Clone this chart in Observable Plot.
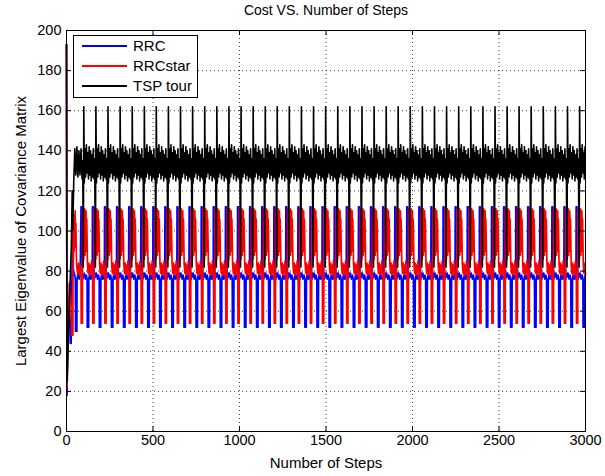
<!DOCTYPE html>
<html><head><meta charset="utf-8">
<script src="https://cdn.jsdelivr.net/npm/d3@7"></script>
<script src="https://cdn.jsdelivr.net/npm/@observablehq/plot@0.6"></script>
<style>
body{margin:0;background:#fff;}
#chart{width:605px;height:476px;}
</style></head><body><div id="chart"></div>
<script>
// ---- data ----
const seriesNames = ["RRC", "RRCstar", "TSP tour"];
const seriesColors = ["#0000ff", "#ff0000", "#000000"];
const xTicks = [0, 500, 1000, 1500, 2000, 2500, 3000];
const yTicks = [0, 20, 40, 60, 80, 100, 120, 140, 160, 180, 200];
const titleText = "Cost VS. Number of Steps";
const xLabel = "Number of Steps";
const yLabel = "Largest Eigenvalue of Covariance Matrix";

// start step of each repeating cycle (read from the black peaks)
const cycleStarts = [97, 167, 237, 307, 377, 447, 516, 586, 656, 726, 796, 866, 936, 1006,
  1076, 1146, 1215, 1285, 1355, 1425, 1495, 1565, 1635, 1705, 1775, 1845, 1914, 1984, 2054,
  2124, 2194, 2264, 2334, 2404, 2474, 2544, 2613, 2683, 2753, 2823, 2893, 2963];

// initial transient, [step, value]
const rrcStart = [[0,193],[3,18],[9,50],[14,64],[19,55],[22,44],[27,44],[30,68],[36,100],[40,78],[46,79],[51,76],[52,50],[60,50],[61,76],[67,79],[73,76],[79,78],[84,112],[88,112],[91,78],[94,76]];
const rrcStarStart = [[0,193],[3,22],[10,55],[16,74],[22,70],[28,60],[31,48],[37,48],[38,100],[40,86],[42,105],[44,90],[46,108],[48,92],[50,110],[52,96],[54,104],[58,84],[62,80],[66,79],[70,84],[74,78],[78,83],[82,79],[84,78],[85,54],[92,54],[93,111],[95,96]];
const tspStart = [[0,193],[3,25],[15,60],[28,92],[33,120],[36,100],[42,125],[48,141],[54,128],[60,142],[66,127],[72,140],[78,128],[84,141],[90,126],[94,135]];

// one cycle, [offset within cycle, value]
const rrcCycle = [[0,77],[6,79],[12,76],[18,78],[22,76],[23,52],[31,52],[32,76],[37,79],[42,76],[48,78],[52,76],[53,112],[58,112],[60,78],[64,76],[68,79]];
const rrcStarCycle = [[0,100],[2,86],[4,108],[6,92],[8,111],[10,88],[12,104],[14,94],[16,110],[18,90],[20,106],[22,96],[24,84],[28,79],[32,84],[36,78],[40,83],[44,79],[48,85],[52,79],[54,78],[55,54],[62,54],[63,111],[65,96],[67,109],[69,88]];
const tspCycle = [[0,82],[3,162],[6,124],[10,141],[14,127],[18,143],[22,129],[26,139],[30,126],[34,142],[38,128],[42,140],[46,125],[50,138],[54,127],[58,141],[62,126],[66,136]];

// ---- build tables ----
function build(name, start, cycle) {
  const rows = start.map(([s, v]) => ({series: name, step: s, value: v}));
  for (const c of cycleStarts) for (const [o, v] of cycle) {
    const s = c + o;
    if (s <= 3000) rows.push({series: name, step: s, value: v});
  }
  return rows;
}
const rrc = build("RRC", rrcStart, rrcCycle);
const rrcStar = build("RRCstar", rrcStarStart, rrcStarCycle);
const tsp = build("TSP tour", tspStart, tspCycle);

const W = 605, H = 476, mL = 66, mR = 20, mT = 30, mB = 45;
const innerW = W - mL - mR, innerH = H - mT - mB;
const font = "'Liberation Sans', Arial, Helvetica, sans-serif";

const chart = Plot.plot({
  width: W, height: H,
  marginLeft: mL, marginRight: mR, marginTop: mT, marginBottom: mB,
  style: {fontFamily: font, fontSize: "14.5px", background: "#fff", color: "#000", overflow: "visible"},
  x: {domain: [0, 3000], label: null},
  y: {domain: [0, 200], label: null},
  color: {domain: seriesNames, range: seriesColors},
  marks: [
    Plot.ruleX(xTicks.slice(1, -1), {stroke: "#000", strokeOpacity: 0.75, strokeDasharray: "1,3"}),
    Plot.ruleY(yTicks.slice(1, -1), {stroke: "#000", strokeOpacity: 0.75, strokeDasharray: "1,3"}),
    Plot.line(rrc, {x: "step", y: "value", stroke: "series", strokeWidth: 1.7, curve: "linear"}),
    Plot.line(rrcStar, {x: "step", y: "value", stroke: "series", strokeWidth: 1.7, curve: "linear"}),
    Plot.line(tsp, {x: "step", y: "value", stroke: "series", strokeWidth: 1.6, curve: "linear"}),
    Plot.ruleX(xTicks, {stroke: "#000", insetTop: innerH - 5}),
    Plot.ruleX(xTicks, {stroke: "#000", insetBottom: innerH - 5}),
    Plot.ruleY(yTicks, {stroke: "#000", insetRight: innerW - 5}),
    Plot.ruleY(yTicks, {stroke: "#000", insetLeft: innerW - 5}),
    Plot.frame({stroke: "#000"}),
    Plot.axisX(xTicks, {tickSize: 0, tickPadding: 3, fontSize: 14.5, tickFormat: d => String(d)}),
    Plot.axisY(yTicks, {tickSize: 0, tickPadding: 5, fontSize: 14.5, tickFormat: d => String(d)}),
    Plot.text([titleText], {frameAnchor: "top", dy: -20, lineAnchor: "middle", fontSize: 14}),
    Plot.text([xLabel], {frameAnchor: "bottom", dy: 32, lineAnchor: "middle", fontSize: 15}),
    Plot.text([yLabel], {frameAnchor: "left", dx: -45, rotate: -90, textAnchor: "middle", lineAnchor: "middle", fontSize: 15})
  ]
});
document.getElementById("chart").appendChild(chart);

// legend
const svg = d3.select(chart);
const lg = svg.append("g").attr("font-family", font).attr("font-size", 15).attr("text-anchor", "start");
lg.append("rect").attr("x", 73.5).attr("y", 35.5).attr("width", 124).attr("height", 62)
  .attr("fill", "#fff").attr("stroke", "#000");
seriesNames.forEach((name, i) => {
  const y = 46 + i * 20;
  lg.append("line").attr("x1", 82).attr("x2", 127).attr("y1", y).attr("y2", y)
    .attr("stroke", seriesColors[i]).attr("stroke-width", 2);
  lg.append("text").attr("x", 133).attr("y", y).attr("dy", "0.35em").attr("fill", "#000")
    .attr("text-anchor", "start").text(name);
});
</script></body></html>
